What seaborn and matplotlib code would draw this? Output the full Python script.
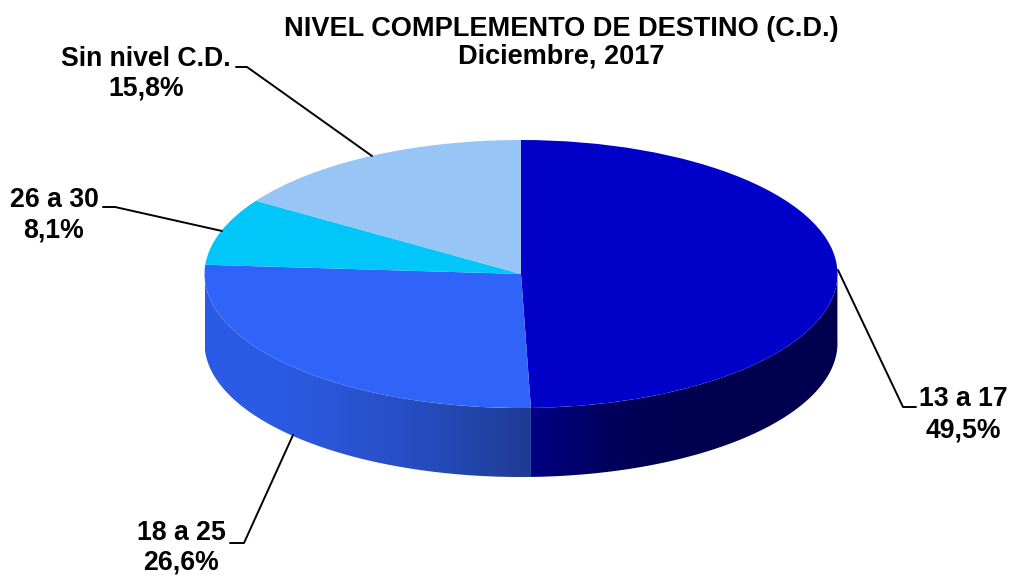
import numpy as np
import seaborn as sns
import matplotlib
matplotlib.use('Agg')
import matplotlib.pyplot as plt
from matplotlib.colors import LinearSegmentedColormap
from matplotlib.patches import Polygon

W, H = 1011, 576

categories = ['13 a 17', '18 a 25', '26 a 30', 'Sin nivel C.D.']
shares = [49.5, 26.6, 8.1, 15.8]
value_labels = ['49,5%', '26,6%', '8,1%', '15,8%']
colors = ['#0000c8', '#3063f8', '#00c6fa', '#96c5f6']
title_lines = ['NIVEL COMPLEMENTO DE DESTINO (C.D.)', 'Diciembre, 2017']

# side wall gradient, left to right, only the slices that reach the front
wall_colors = {0: ['#000084', '#00005c', '#000050', '#000050', '#000050'],
               1: ['#2b5ae6', '#2b5ae2', '#2a52cf', '#2349b4', '#1f3a94']}

# geometry of the fake 3D pie, in pixels
cx, cy, rx, ry, depth = 521, 274, 316.5, 134, 69

# label text centre and leader line (pixels from top left)
label_pos = [(963, 415), (181, 548), (54, 215), (146, 74)]
label_spacing = [1.26, 1.2, 1.2, 1.16]
leaders = [
    [(838, 270), (903, 407), (916, 407)],
    [(293, 435), (244, 543), (230, 543)],
    [(222, 231), (115, 207), (103, 207)],
    [(372, 156), (247, 67), (236, 67)],
]

sns.set_theme(style='white')
plt.rcParams['font.family'] = ['Liberation Sans', 'DejaVu Sans']

fig = plt.figure(figsize=(W / 100, H / 100), dpi=100, facecolor='white')
ax = fig.add_axes([0, 0, 1, 1])

wedges, _ = ax.pie(shares, colors=colors, startangle=90, counterclock=False,
                   radius=1, wedgeprops=dict(linewidth=0))
ax.set_aspect('auto')
xlim = ((0 - cx) / rx, (W - cx) / rx)
ylim = ((cy - H) / ry, cy / ry)
d = depth / ry

# walls under the front edge, from the angles the pie worked out
for i, w in enumerate(wedges):
    if i not in wall_colors:
        continue
    t = np.radians(np.linspace(w.theta1, w.theta2, 200))
    t = t[np.sin(t) <= 0.03]
    xs, ys = np.cos(t), np.sin(t)
    pts = np.r_[np.c_[xs, ys], np.c_[xs, ys - d][::-1]]
    clip = Polygon(pts, closed=True, facecolor='none', edgecolor='none', transform=ax.transData)
    ax.add_patch(clip)
    cmap = LinearSegmentedColormap.from_list('wall%d' % i, wall_colors[i])
    im = ax.imshow(np.linspace(0, 1, 256)[None, :], cmap=cmap, aspect='auto', zorder=0.5,
                   extent=(xs.min(), xs.max(), (ys - d).min(), ys.max()))
    im.set_clip_path(clip)

for w in wedges:
    w.set_zorder(2)

ax.set_xlim(*xlim)
ax.set_ylim(*ylim)
ax.axis('off')


def to_fig(p):
    return p[0] / W, 1 - p[1] / H


for cat, val, pos, sp, line in zip(categories, value_labels, label_pos, label_spacing, leaders):
    x, y = to_fig(pos)
    fig.text(x, y, cat + '\n' + val, ha='center', va='center', fontsize=19.2,
             fontweight='bold', color='black', linespacing=sp)
    pts = np.array([to_fig(p) for p in line])
    fig.add_artist(plt.Line2D(pts[:, 0], pts[:, 1], color='black', lw=1.4,
                              transform=fig.transFigure, zorder=1))

x, y = to_fig((561, 42.5))
fig.text(x, y, '\n'.join(title_lines), ha='center', va='center', fontsize=19.5,
         fontweight='bold', color='black', linespacing=1.08)

fig.savefig('out.png', dpi=100, facecolor='white')
